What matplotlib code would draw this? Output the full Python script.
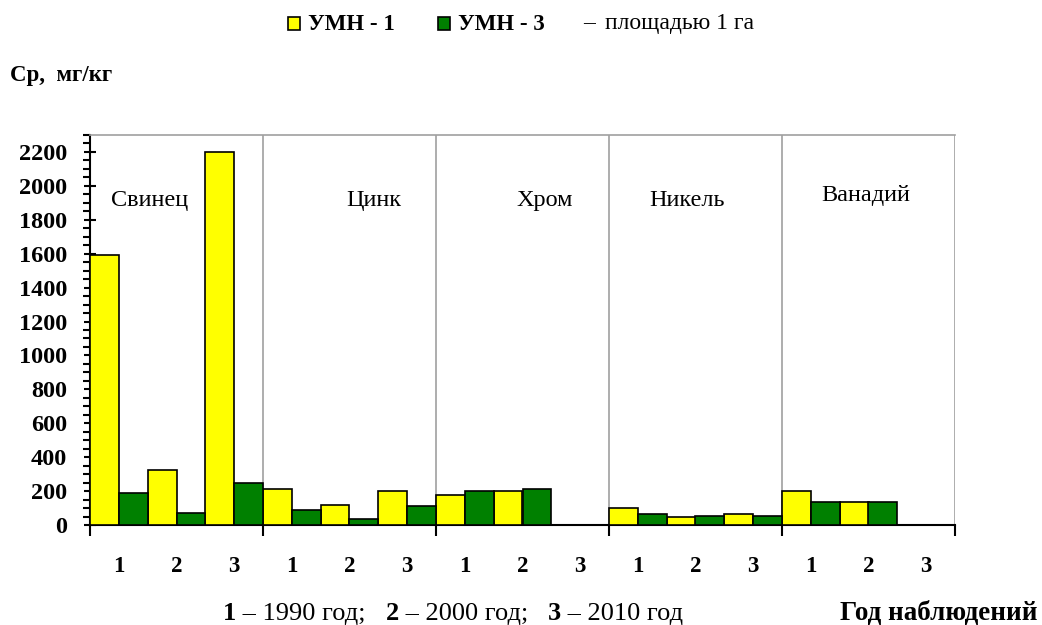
import numpy as np
import matplotlib
matplotlib.use('Agg')
import matplotlib.pyplot as plt
from matplotlib.patches import Rectangle
from matplotlib.ticker import MultipleLocator

plt.rcParams['font.family'] = ['Liberation Serif', 'DejaVu Serif']

# данные
metals = ['Свинец', 'Цинк', 'Хром', 'Никель', 'Ванадий']
years = ['1', '2', '3']
series = ['УМН - 1', 'УМН - 3']
umn1 = [1590, 325, 2200,   210, 120, 200,   175, 200, 0,   100, 50, 65,   200, 135, 0]
umn3 = [190, 70, 250,      90, 35, 110,     200, 210, 0,   65, 55, 55,    135, 135, 0]
colors = ['#FFFF00', '#008000']
year_names = ['1990 год;', '2000 год;', '2010 год']
metal_lbl_x = [150, 374, 545, 687, 866]   # px, положение подписей
metal_lbl_y = [200, 200, 200, 200, 196]

W, H = 1042, 625
fig = plt.figure(figsize=(W / 100, H / 100), dpi=100)
ax = fig.add_axes([90 / W, 1 - 525 / H, (955 - 90) / W, (525 - 135) / H])

x = np.arange(len(umn1))
bw = 0.5
ax.bar(x - bw / 2, umn1, width=bw, color=colors[0], edgecolor='black', linewidth=1.2, zorder=3)
ax.bar(x + bw / 2, umn3, width=bw, color=colors[1], edgecolor='black', linewidth=1.2, zorder=3)

ax.set_xlim(-0.5, len(umn1) - 0.5)
ax.set_ylim(0, 2300)

# вертикальные разделители групп
for k in range(1, len(metals) + 1):
    ax.axvline(3 * k - 0.5, color='#A0A0A0', lw=1.2, zorder=1)

ax.spines['top'].set_color('#A0A0A0')
ax.spines['right'].set_visible(False)
ax.spines['left'].set_linewidth(1.5)
ax.spines['bottom'].set_linewidth(1.5)
ax.spines['top'].set_linewidth(1.2)

ax.yaxis.set_major_locator(MultipleLocator(200))
ax.yaxis.set_minor_locator(MultipleLocator(50))
ax.tick_params(axis='y', which='major', direction='inout', length=9, width=1.5, labelsize=17.5, pad=12)
ax.tick_params(axis='y', which='minor', direction='out', length=5, width=1.5)
for t in ax.get_yticklabels():
    t.set_fontweight('bold')

# x: метки границ групп + подписи годов
ax.set_xticks([3 * k - 0.5 for k in range(len(metals) + 1)])
ax.set_xticklabels([])
ax.set_xticks(x, minor=True)
ax.set_xticklabels(years * len(metals), minor=True, fontsize=16.5, fontweight='bold')
ax.tick_params(axis='x', which='major', direction='out', length=8, width=1.5)
ax.tick_params(axis='x', which='minor', length=0, pad=22)

for name, px, py in zip(metals, metal_lbl_x, metal_lbl_y):
    fig.text(px / W, 1 - py / H, name, fontsize=17.5, ha='center', va='center')

# легенда (вручную)
leg_x = [288, 438]
for lx, lab, c in zip(leg_x, series, colors):
    fig.add_artist(Rectangle((lx / W, 1 - 30 / H), 12 / W, 13 / H, transform=fig.transFigure,
                             facecolor=c, edgecolor='black', lw=1.2))
    fig.text((lx + 20) / W, 1 - 24 / H, lab, fontsize=16.5, fontweight='bold', ha='left', va='center')
fig.text(583 / W, 1 - 24 / H, '–', fontsize=17, ha='left', va='center')
fig.text(605 / W, 1 - 24 / H, 'площадью 1 га', fontsize=17, ha='left', va='center')

fig.text(10 / W, 1 - 76 / H, 'Ср,  мг/кг', fontsize=16.5, fontweight='bold', ha='left', va='center')

# нижняя подпись: куски идут друг за другом
renderer = fig.canvas.get_renderer()
cur = 223
for num, yr in zip(years, year_names):
    for s, w in [(num, 'bold'), (' – ' + yr + '   ', 'normal')]:
        t = fig.text(cur / W, 1 - 620 / H, s, fontsize=19, fontweight=w, ha='left', va='baseline')
        cur = t.get_window_extent(renderer).x1
fig.text(1038 / W, 1 - 620 / H, 'Год наблюдений', fontsize=19.5, fontweight='bold', ha='right', va='baseline')

fig.savefig('out.png', dpi=100)
